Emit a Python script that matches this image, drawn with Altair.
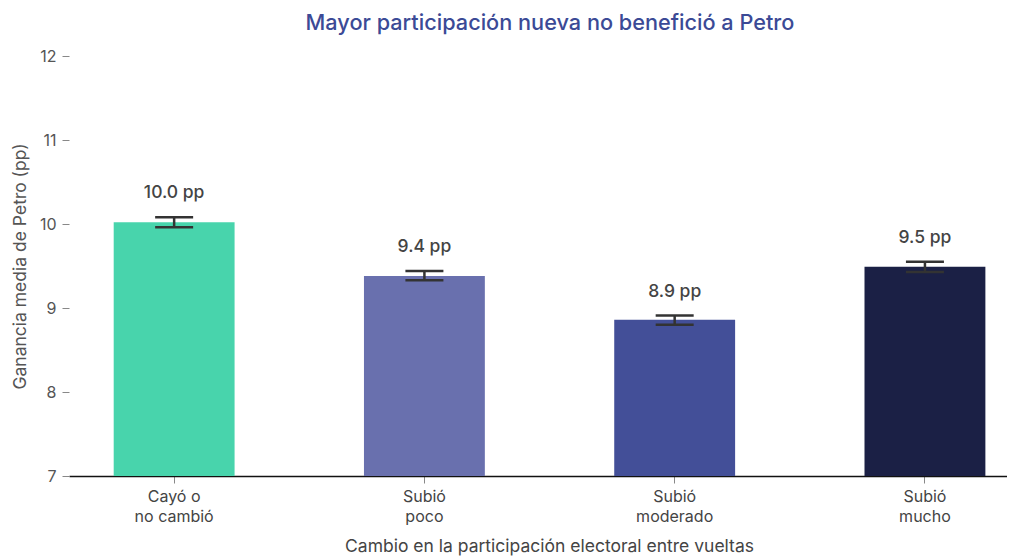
import altair as alt
import pandas as pd

categories = ["Cayó o|no cambió", "Subió|poco", "Subió|moderado", "Subió|mucho"]
means = [10.02, 9.38, 8.86, 9.49]
lower = [9.96, 9.33, 8.80, 9.43]
upper = [10.08, 9.44, 8.91, 9.55]
labels = ["10.0 pp", "9.4 pp", "8.9 pp", "9.5 pp"]
colors = ["#48d4ac", "#6970ae", "#434f98", "#1b2045"]

df = pd.DataFrame({
    "cat": categories, "mean": means, "lo": lower, "hi": upper,
    "label": labels, "base": [7] * 4,
})

FONT = "Inter"

x = alt.X(
    "cat:N", sort=categories,
    scale=alt.Scale(paddingInner=0.517, paddingOuter=0.1325, align=0.674),
    axis=alt.Axis(
        title="Cambio en la participación electoral entre vueltas",
        labelExpr="split(datum.value, '|')",
        labelAngle=0, labelFontSize=16, labelColor="#444", labelFont=FONT,
        labelPadding=5, labelLineHeight=20,
        tickSize=7, tickColor="#888", tickWidth=1,
        domainColor="#111", domainWidth=1.5,
        titleFontSize=17.5, titleFont=FONT, titleColor="#444", titleFontWeight="normal",
        titleX=480, titleY=70, titleBaseline="middle",
    ),
)

y_axis = alt.Axis(
    title="Ganancia media de Petro (pp)", values=[7, 8, 9, 10, 11, 12], format="d",
    grid=False, domain=False, tickSize=7, tickColor="#888", labelPadding=6,
    labelFontSize=16, labelColor="#555", labelFont=FONT,
    titleFontSize=17.5, titleFont=FONT, titleColor="#555", titleFontWeight="normal",
    titlePadding=10,
)
yscale = alt.Scale(domain=[7, 12], zero=False, nice=False)

bars = alt.Chart(df).mark_bar().encode(
    x=x,
    y=alt.Y("mean:Q", scale=yscale, axis=y_axis),
    y2="base:Q",
    color=alt.Color("cat:N", sort=categories, scale=alt.Scale(domain=categories, range=colors), legend=None),
)

rule = alt.Chart(df).mark_rule(color="#333", strokeWidth=2.5, opacity=1).encode(
    x=alt.X("cat:N", sort=categories), y=alt.Y("lo:Q"), y2="hi:Q"
)
cap_hi = alt.Chart(df).mark_tick(color="#333", thickness=2.5, size=38, opacity=1).encode(
    x=alt.X("cat:N", sort=categories), y=alt.Y("hi:Q")
)
cap_lo = alt.Chart(df).mark_tick(color="#333", thickness=2.5, size=38, opacity=1).encode(
    x=alt.X("cat:N", sort=categories), y=alt.Y("lo:Q")
)
text = alt.Chart(df).mark_text(
    dy=-19, baseline="alphabetic", fontSize=17.5, fontWeight=500, color="#444", font=FONT
).encode(x=alt.X("cat:N", sort=categories), y=alt.Y("hi:Q"), text="label:N")

chart = (
    alt.layer(bars, rule, cap_hi, cap_lo, text)
    .properties(
        width=938, height=420,
        padding={"left": 61, "top": 48, "right": 0, "bottom": 92},
        autosize=alt.AutoSizeParams(type="none"),
        title=alt.TitleParams(
            "Mayor participación nueva no benefició a Petro",
            fontSize=21.7, font=FONT, fontWeight=500, color="#3b4a96",
            anchor="middle", offset=13, dx=12,
        ),
    )
    .configure(background="white")
    .configure_view(strokeWidth=0, stroke="transparent")
    .configure_axis(grid=False)
    .configure_axisY(domain=False)
)

chart.save("out.html", embed_options={"renderer": "svg", "actions": False})
